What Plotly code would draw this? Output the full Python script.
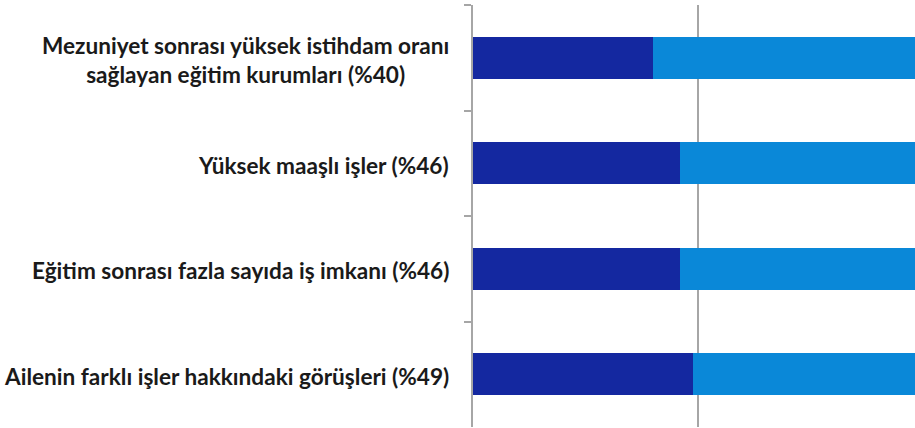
import plotly.graph_objects as go

categories = [
    "Mezuniyet sonrası yüksek istihdam oranı<br>sağlayan eğitim kurumları (%40)",
    "Yüksek maaşlı işler (%46)",
    "Eğitim sonrası fazla sayıda iş imkanı (%46)",
    "Ailenin farklı işler hakkındaki görüşleri (%49)",
]
cat_ids = ["c1", "c2", "c3", "c4"]
share = [40, 46, 46, 49]
rest = [100 - v for v in share]

dark = "#1428A0"
light = "#0A88D8"

fig = go.Figure()
fig.add_trace(go.Bar(y=cat_ids, x=share, orientation="h", marker=dict(color=dark, line=dict(width=0)), showlegend=False))
fig.add_trace(go.Bar(y=cat_ids, x=rest, orientation="h", marker=dict(color=light, line=dict(width=0)), showlegend=False))

for cid, label in zip(cat_ids, categories):
    fig.add_annotation(
        x=0, xref="paper", y=cid, yref="y", text=label, showarrow=False,
        xanchor="right", xshift=-22, yshift=-2, align="center",
        font=dict(family="Lato", size=22.6, color="#1a1a1a", weight="bold"),
    )

fig.update_layout(
    width=915, height=428,
    margin=dict(l=473, r=0, t=5, b=1),
    barmode="stack", bargap=0.6,
    plot_bgcolor="white", paper_bgcolor="white",
    xaxis=dict(range=[0, 98.4], showticklabels=False, showgrid=True, gridcolor="#A6A6A6", gridwidth=1.5,
               tickvals=[50], zeroline=False, showline=False, ticks=""),
    yaxis=dict(autorange="reversed", showticklabels=False, showline=True, linecolor="#A6A6A6", linewidth=1.5,
               ticks="outside", ticklen=7, tickcolor="#A6A6A6", tickwidth=1.5, tickson="boundaries",
               showgrid=False, zeroline=False),
)

fig.write_html("out.html")
